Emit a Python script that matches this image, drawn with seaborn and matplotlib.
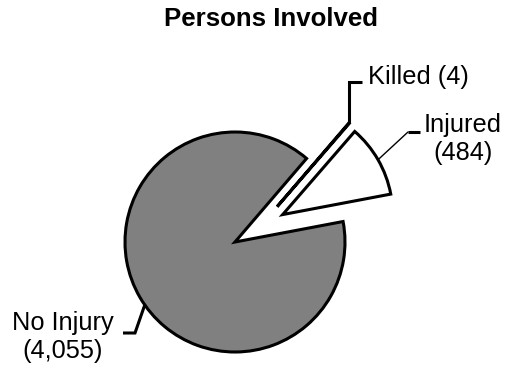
import numpy as np
import matplotlib
matplotlib.use("Agg")
import matplotlib.pyplot as plt
import seaborn as sns

# Persons involved, by outcome
categories = ["No Injury", "Injured", "Killed"]
persons = [4055, 484, 4]
label_text = ["No Injury\n(4,055)", "Injured\n(484)", "Killed (4)"]
slice_colors = ["#808080", "#ffffff", "#000000"]

sns.set_theme(style="white")
plt.rcParams["font.family"] = ["Liberation Sans", "DejaVu Sans"]

W, H = 505, 366
fig = plt.figure(figsize=(W / 100, H / 100), dpi=100)
ax = fig.add_axes([0, 0, 1, 1])

# canvas in pixel units, y pointing up
cx, cy, r = 235, H - 242, 110
start = 49.4
pull = 55  # distance the small slices are pulled out

wedges, _ = ax.pie(
    persons, colors=slice_colors, startangle=start, counterclock=True,
    radius=r, center=(cx, cy), explode=[0, pull, pull],
    wedgeprops=dict(edgecolor="black", linewidth=2.2, joinstyle="miter"),
)
# the thin "Killed" sliver sits between the two larger slices
kdir = np.deg2rad(40)
wedges[2].set_center((cx + pull * np.cos(kdir), cy + pull * np.sin(kdir)))

ax.set_xlim(0, W)
ax.set_ylim(0, H)
ax.axis("off")


def arc_point(w, frac=0.5):
    th = np.deg2rad(w.theta1 + frac * (w.theta2 - w.theta1))
    x0, y0 = w.center
    return x0 + w.r * np.cos(th), y0 + w.r * np.sin(th)


fs = 18.3
line_step = 28  # baseline-to-baseline distance in px


def put_label(text, x, first_baseline_px, ha):
    for i, line in enumerate(text.split("\n")):
        ax.text(x, H - (first_baseline_px + i * line_step), line, ha=ha,
                va="baseline", fontsize=fs, color="black")


# Killed: tip of sliver, up then right
kx, ky = arc_point(wedges[2], 1.0)
ky_line = H - 82
ax.plot([kx, kx, 362], [ky, ky_line, ky_line], color="black", lw=2.2,
        solid_joinstyle="miter", solid_capstyle="butt")
put_label(label_text[2], 368, 84, "left")

# Injured: diagonal from arc then short horizontal
ix, iy = arc_point(wedges[1])
ax.plot([ix, 408], [iy, H - 132], color="black", lw=1.0)
ax.plot([408, 420], [H - 132, H - 132], color="black", lw=2.2,
        solid_capstyle="butt")
put_label(label_text[1], 463, 132, "center")

# No Injury
nx, ny = arc_point(wedges[0], 0.515)
ax.plot([nx, 135, 123], [ny, H - 333, H - 333], color="black", lw=2.2,
        solid_joinstyle="miter", solid_capstyle="butt")
put_label(label_text[0], 63, 330, "center")

ax.text(271, H - 26, "Persons Involved", ha="center", va="baseline",
        fontsize=18.6, fontweight="bold", color="black")

fig.savefig("out.png", dpi=100)
